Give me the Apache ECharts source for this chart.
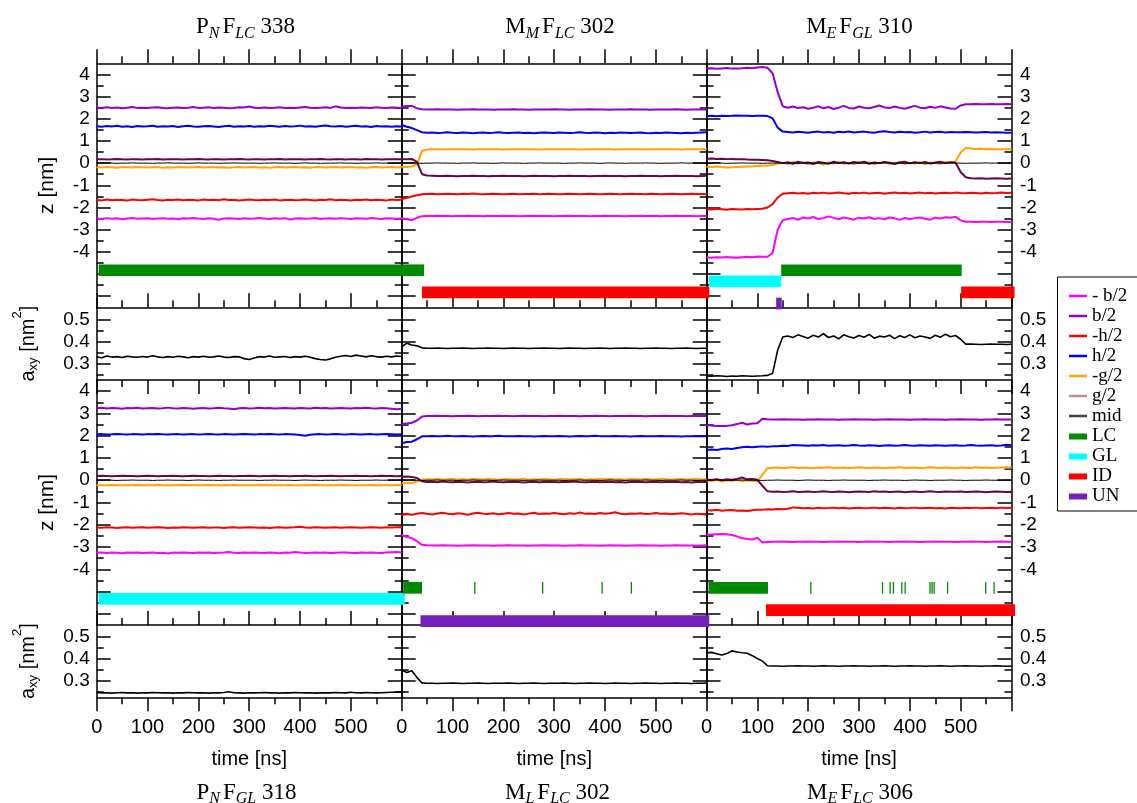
<!DOCTYPE html>
<html><head><meta charset="utf-8">
<script src="https://cdn.jsdelivr.net/npm/echarts@6/dist/echarts.min.js"></script>
<style>html,body{margin:0;padding:0;background:#fff}#chart{width:1137px;height:803px}</style>
</head><body><div id="chart"></div>
<script>
// ---------------- DATA ----------------
const TIME_NS = [0,10,20,30,40,50,60,70,80,90,100,110,120,130,140,150,160,170,180,190,200,210,220,230,240,250,260,270,280,290,300,310,320,330,340,350,360,370,380,390,400,410,420,430,440,450,460,470,480,490,500,510,520,530,540,550,560,570,580,590,600];

const LAYER_NAMES = ['- b/2','b/2','-h/2','h/2','-g/2','g/2','mid'];
const STATE_NAMES = ['LC','GL','ID','UN'];
const STATE_LEVEL = {LC:-4.83, GL:-5.33, ID:-5.83, UN:-6.33};

const Z_MAJOR_TICKS = [-6,-5,-4,-3,-2,-1,0,1,2,3,4];
const Z_MINOR_TICKS = [-5.5,-4.5,-3.5,-2.5,-1.5,-0.5,0.5,1.5,2.5,3.5];
const Z_TICK_LABELS = [-4,-3,-2,-1,0,1,2,3,4];
const A_MAJOR_TICKS = [0.3,0.4,0.5];
const A_MINOR_TICKS = [0.25,0.35,0.45];
const A_TICK_LABELS = [0.3,0.4,0.5];
const Z_RANGE = [-6.5, 4.5];
const A_RANGE = [0.225, 0.555];

const TITLES_TOP = [['P','N','F','LC',' 338'],['M','M','F','LC',' 302'],['M','E','F','GL',' 310']];
const TITLES_BOTTOM = [['P','N','F','GL',' 318'],['M','L','F','LC',' 302'],['M','E','F','LC',' 306']];
const X_NAME = 'time [ns]';
const Z_NAME = 'z [nm]';

const MID_Z = [0.00,0.00,0.01,0.00,-0.01,0.00,0.00,0.01,0.00,0.00,
 0.00,-0.01,0.00,0.00,0.01,0.00,0.00,0.00,-0.01,0.00,
 0.01,0.00,0.00,0.00,-0.01,0.00,0.00,0.01,0.00,0.00,
 0.00,0.00,-0.01,0.00,0.00,0.01,0.00,0.00,0.00,-0.01,
 0.00,0.01,0.00,0.00,-0.01,0.00,0.00,0.00,0.01,0.00,
 0.00,-0.01,0.00,0.00,0.00,0.01,0.00,0.00,-0.01,0.00,
 0.00];

// Panel 1: PN FLC 338
const p1_negB = [-2.50,-2.52,-2.48,-2.51,-2.49,-2.53,-2.50,-2.47,-2.51,-2.50,
 -2.49,-2.52,-2.50,-2.48,-2.51,-2.50,-2.53,-2.49,-2.50,-2.47,
 -2.50,-2.52,-2.49,-2.51,-2.55,-2.50,-2.48,-2.50,-2.52,-2.49,
 -2.51,-2.50,-2.47,-2.50,-2.52,-2.49,-2.51,-2.48,-2.54,-2.50,
 -2.49,-2.51,-2.50,-2.47,-2.52,-2.50,-2.49,-2.51,-2.48,-2.50,
 -2.52,-2.49,-2.50,-2.51,-2.47,-2.50,-2.52,-2.49,-2.50,-2.51,
 -2.50];
const p1_b = [2.50,2.48,2.52,2.49,2.51,2.47,2.50,2.53,2.49,2.50,
 2.48,2.51,2.52,2.49,2.47,2.50,2.51,2.48,2.50,2.53,
 2.49,2.50,2.52,2.48,2.51,2.50,2.47,2.49,2.52,2.51,
 2.55,2.50,2.48,2.51,2.49,2.50,2.52,2.48,2.50,2.49,
 2.51,2.53,2.50,2.48,2.50,2.52,2.49,2.56,2.51,2.48,
 2.50,2.49,2.51,2.50,2.48,2.52,2.50,2.49,2.51,2.50,
 2.49];
const p1_negH = [-1.66,-1.68,-1.64,-1.67,-1.65,-1.66,-1.69,-1.64,-1.66,-1.67,
 -1.65,-1.63,-1.66,-1.68,-1.65,-1.66,-1.64,-1.67,-1.65,-1.66,
 -1.68,-1.64,-1.66,-1.65,-1.67,-1.63,-1.66,-1.65,-1.68,-1.66,
 -1.64,-1.66,-1.67,-1.65,-1.66,-1.64,-1.68,-1.66,-1.65,-1.67,
 -1.66,-1.64,-1.66,-1.69,-1.65,-1.66,-1.63,-1.67,-1.65,-1.66,
 -1.68,-1.65,-1.66,-1.64,-1.67,-1.65,-1.66,-1.68,-1.64,-1.66,
 -1.65];
const p1_h = [1.66,1.64,1.67,1.65,1.68,1.64,1.66,1.63,1.67,1.65,
 1.66,1.68,1.64,1.66,1.65,1.67,1.63,1.66,1.68,1.65,
 1.64,1.66,1.67,1.65,1.63,1.66,1.68,1.64,1.66,1.65,
 1.67,1.64,1.66,1.65,1.68,1.66,1.64,1.67,1.65,1.66,
 1.69,1.65,1.66,1.64,1.67,1.70,1.66,1.65,1.67,1.64,
 1.66,1.68,1.65,1.66,1.63,1.67,1.65,1.66,1.64,1.66,
 1.65];
const p1_negG = [-0.19,-0.20,-0.18,-0.19,-0.21,-0.18,-0.19,-0.20,-0.18,-0.19,
 -0.20,-0.19,-0.18,-0.21,-0.19,-0.20,-0.18,-0.19,-0.20,-0.19,
 -0.18,-0.20,-0.19,-0.18,-0.20,-0.19,-0.21,-0.19,-0.18,-0.20,
 -0.19,-0.18,-0.20,-0.19,-0.21,-0.19,-0.18,-0.20,-0.19,-0.18,
 -0.20,-0.19,-0.21,-0.18,-0.19,-0.20,-0.19,-0.18,-0.20,-0.19,
 -0.18,-0.20,-0.19,-0.21,-0.19,-0.18,-0.20,-0.19,-0.18,-0.20,
 -0.19];
const p1_g = [0.17,0.18,0.16,0.17,0.19,0.17,0.16,0.18,0.17,0.16,
 0.18,0.17,0.19,0.16,0.17,0.18,0.17,0.16,0.18,0.17,
 0.19,0.17,0.16,0.18,0.17,0.16,0.18,0.17,0.19,0.17,
 0.16,0.18,0.17,0.16,0.18,0.17,0.19,0.16,0.17,0.18,
 0.17,0.16,0.18,0.17,0.19,0.17,0.16,0.18,0.17,0.16,
 0.18,0.17,0.16,0.19,0.17,0.18,0.16,0.17,0.18,0.17,
 0.17];
const p1_a = [0.330,0.326,0.334,0.329,0.331,0.327,0.333,0.330,0.328,0.332,
 0.329,0.335,0.330,0.327,0.331,0.328,0.333,0.330,0.326,0.331,
 0.329,0.333,0.328,0.330,0.334,0.329,0.327,0.331,0.330,0.322,
 0.318,0.325,0.331,0.329,0.334,0.328,0.330,0.332,0.327,0.331,
 0.329,0.333,0.328,0.322,0.318,0.316,0.321,0.328,0.333,0.336,
 0.332,0.338,0.334,0.330,0.335,0.331,0.329,0.333,0.330,0.334,
 0.332];
const STATES_P1 = [['LC',4,600]];

// Panel 2: MM FLC 302
const p2_negB = [-2.48,-2.53,-2.58,-2.46,-2.39,-2.38,-2.38,-2.37,-2.38,-2.38,
 -2.39,-2.38,-2.38,-2.37,-2.38,-2.38,-2.39,-2.38,-2.38,-2.38,
 -2.37,-2.38,-2.38,-2.39,-2.38,-2.38,-2.37,-2.38,-2.38,-2.38,
 -2.39,-2.38,-2.38,-2.37,-2.38,-2.38,-2.38,-2.39,-2.38,-2.38,
 -2.37,-2.38,-2.38,-2.38,-2.39,-2.38,-2.38,-2.37,-2.38,-2.38,
 -2.38,-2.39,-2.38,-2.38,-2.37,-2.38,-2.38,-2.38,-2.39,-2.38,
 -2.38];
const p2_b = [2.54,2.57,2.58,2.47,2.43,2.42,2.42,2.43,2.42,2.42,
 2.42,2.41,2.42,2.42,2.43,2.42,2.42,2.42,2.41,2.42,
 2.42,2.42,2.43,2.42,2.42,2.41,2.42,2.42,2.42,2.42,
 2.43,2.42,2.42,2.41,2.42,2.42,2.42,2.43,2.42,2.42,
 2.42,2.41,2.42,2.42,2.42,2.43,2.42,2.42,2.42,2.41,
 2.42,2.42,2.42,2.42,2.43,2.42,2.41,2.42,2.42,2.42,
 2.42];
const p2_negH = [-1.62,-1.57,-1.50,-1.45,-1.40,-1.39,-1.38,-1.40,-1.39,-1.38,
 -1.39,-1.40,-1.38,-1.39,-1.37,-1.39,-1.40,-1.39,-1.38,-1.39,
 -1.40,-1.39,-1.38,-1.40,-1.39,-1.39,-1.38,-1.40,-1.39,-1.38,
 -1.39,-1.40,-1.39,-1.38,-1.39,-1.40,-1.39,-1.38,-1.39,-1.40,
 -1.39,-1.38,-1.39,-1.40,-1.39,-1.38,-1.39,-1.39,-1.40,-1.38,
 -1.39,-1.40,-1.39,-1.38,-1.39,-1.40,-1.39,-1.38,-1.39,-1.39,
 -1.40];
const p2_h = [1.72,1.64,1.58,1.49,1.39,1.37,1.38,1.36,1.37,1.39,
 1.37,1.36,1.38,1.37,1.35,1.37,1.38,1.36,1.37,1.39,
 1.37,1.36,1.37,1.38,1.36,1.37,1.35,1.37,1.38,1.37,
 1.36,1.38,1.37,1.36,1.37,1.39,1.37,1.36,1.38,1.37,
 1.35,1.37,1.36,1.38,1.37,1.36,1.37,1.38,1.36,1.35,
 1.37,1.36,1.38,1.37,1.36,1.35,1.37,1.36,1.37,1.38,
 1.39];
const p2_negG = [-0.16,-0.17,-0.15,-0.06,0.55,0.61,0.62,0.62,0.61,0.62,
 0.62,0.63,0.62,0.62,0.61,0.62,0.62,0.63,0.62,0.62,
 0.61,0.62,0.62,0.62,0.63,0.62,0.62,0.61,0.62,0.62,
 0.62,0.63,0.62,0.62,0.62,0.61,0.62,0.62,0.63,0.62,
 0.62,0.62,0.61,0.62,0.63,0.62,0.62,0.62,0.61,0.62,
 0.62,0.63,0.62,0.62,0.62,0.61,0.62,0.62,0.62,0.63,
 0.62];
const p2_g = [0.18,0.17,0.19,0.06,-0.50,-0.56,-0.57,-0.58,-0.58,-0.57,
 -0.58,-0.59,-0.58,-0.58,-0.57,-0.58,-0.58,-0.59,-0.58,-0.58,
 -0.57,-0.58,-0.58,-0.58,-0.59,-0.58,-0.57,-0.58,-0.58,-0.58,
 -0.59,-0.58,-0.58,-0.57,-0.58,-0.58,-0.58,-0.59,-0.58,-0.58,
 -0.57,-0.58,-0.58,-0.58,-0.59,-0.58,-0.58,-0.57,-0.58,-0.58,
 -0.58,-0.59,-0.58,-0.58,-0.57,-0.58,-0.58,-0.58,-0.59,-0.58,
 -0.57];
const p2_a = [0.376,0.392,0.384,0.380,0.371,0.369,0.369,0.370,0.369,0.368,
 0.369,0.369,0.370,0.369,0.368,0.369,0.369,0.370,0.369,0.369,
 0.368,0.369,0.370,0.369,0.369,0.368,0.369,0.369,0.370,0.369,
 0.369,0.368,0.369,0.370,0.369,0.369,0.368,0.369,0.369,0.370,
 0.369,0.368,0.369,0.369,0.370,0.369,0.369,0.368,0.369,0.369,
 0.370,0.369,0.369,0.368,0.369,0.369,0.370,0.369,0.368,0.369,
 0.369];
const STATES_P2 = [['LC',0,44],['ID',40,605]];

// Panel 3: ME FGL 310
const p3_negB = [-4.25,-4.27,-4.24,-4.26,-4.23,-4.25,-4.27,-4.24,-4.22,-4.24,
 -4.21,-4.22,-4.22,-4.05,-3.00,-2.57,-2.52,-2.47,-2.55,-2.45,
 -2.50,-2.43,-2.52,-2.48,-2.40,-2.47,-2.53,-2.45,-2.50,-2.55,
 -2.46,-2.50,-2.44,-2.52,-2.48,-2.53,-2.45,-2.49,-2.56,-2.47,
 -2.52,-2.48,-2.45,-2.51,-2.55,-2.46,-2.50,-2.44,-2.46,-2.42,
 -2.58,-2.64,-2.64,-2.65,-2.64,-2.64,-2.65,-2.64,-2.64,-2.65,
 -2.65];
const p3_b = [4.27,4.28,4.25,4.27,4.29,4.26,4.27,4.28,4.30,4.28,
 4.31,4.33,4.30,4.05,3.20,2.56,2.50,2.55,2.48,2.52,
 2.45,2.50,2.56,2.47,2.53,2.44,2.50,2.58,2.49,2.46,
 2.55,2.50,2.47,2.53,2.60,2.51,2.48,2.55,2.49,2.45,
 2.52,2.58,2.50,2.47,2.54,2.49,2.56,2.51,2.46,2.45,
 2.60,2.65,2.65,2.66,2.65,2.65,2.66,2.65,2.65,2.66,
 2.65];
const p3_negH = [-2.08,-2.09,-2.06,-2.08,-2.10,-2.07,-2.08,-2.09,-2.07,-2.08,
 -2.07,-2.06,-2.00,-1.85,-1.55,-1.38,-1.36,-1.34,-1.37,-1.35,
 -1.38,-1.34,-1.36,-1.33,-1.37,-1.35,-1.32,-1.36,-1.38,-1.34,
 -1.36,-1.33,-1.37,-1.35,-1.34,-1.38,-1.35,-1.32,-1.36,-1.34,
 -1.37,-1.35,-1.33,-1.36,-1.34,-1.37,-1.35,-1.34,-1.36,-1.33,
 -1.35,-1.36,-1.34,-1.35,-1.37,-1.34,-1.36,-1.35,-1.33,-1.35,
 -1.34];
const p3_h = [2.12,2.13,2.11,2.14,2.12,2.13,2.15,2.13,2.14,2.12,
 2.14,2.13,2.12,2.02,1.60,1.42,1.40,1.38,1.41,1.39,
 1.37,1.40,1.42,1.38,1.40,1.37,1.41,1.39,1.43,1.38,
 1.40,1.42,1.39,1.37,1.41,1.44,1.40,1.38,1.41,1.39,
 1.40,1.37,1.39,1.42,1.38,1.40,1.41,1.38,1.40,1.39,
 1.39,1.40,1.39,1.38,1.39,1.40,1.38,1.39,1.38,1.37,
 1.37];
const p3_negG = [-0.16,-0.17,-0.15,-0.18,-0.20,-0.19,-0.17,-0.16,-0.15,-0.14,
 -0.13,-0.12,-0.11,-0.08,-0.03,0.02,-0.04,0.05,-0.02,0.03,
 -0.05,0.04,0.00,-0.06,0.03,-0.02,0.06,-0.03,0.01,-0.04,
 0.05,-0.01,0.03,-0.05,0.02,0.04,-0.03,0.00,0.05,-0.04,
 0.02,-0.02,0.04,-0.05,0.03,0.00,-0.03,0.05,0.01,0.08,
 0.48,0.68,0.66,0.64,0.65,0.63,0.64,0.62,0.63,0.62,
 0.62];
const p3_g = [0.20,0.21,0.19,0.20,0.18,0.19,0.17,0.18,0.16,0.15,
 0.15,0.14,0.13,0.10,0.05,0.00,0.04,-0.03,0.06,0.01,
 0.03,-0.04,0.05,0.02,-0.03,0.06,0.00,0.04,-0.02,0.05,
 0.01,0.06,-0.03,0.03,0.00,0.05,0.02,-0.04,0.03,0.06,
 -0.01,0.04,0.00,0.05,-0.02,0.03,0.06,0.00,0.04,0.02,
 -0.40,-0.64,-0.68,-0.69,-0.68,-0.70,-0.69,-0.68,-0.69,-0.70,
 -0.69];
const p3_a = [0.243,0.242,0.244,0.243,0.241,0.243,0.242,0.244,0.243,0.242,
 0.243,0.244,0.246,0.255,0.360,0.420,0.425,0.418,0.430,0.422,
 0.415,0.428,0.420,0.435,0.418,0.425,0.412,0.430,0.421,0.416,
 0.427,0.419,0.432,0.415,0.424,0.420,0.428,0.413,0.426,0.418,
 0.430,0.417,0.425,0.420,0.414,0.428,0.419,0.433,0.421,0.427,
 0.410,0.388,0.388,0.387,0.386,0.387,0.388,0.387,0.387,0.386,
 0.387];
const STATES_P3 = [['GL',5,147],['LC',147,502],['ID',501,606],['UN',137,148]];

// Panel 4: PN FGL 318
const p4_negB = [-3.26,-3.24,-3.27,-3.25,-3.26,-3.28,-3.25,-3.26,-3.24,-3.27,
 -3.26,-3.25,-3.27,-3.26,-3.29,-3.25,-3.26,-3.24,-3.26,-3.27,
 -3.25,-3.26,-3.24,-3.27,-3.26,-3.25,-3.22,-3.26,-3.27,-3.25,
 -3.26,-3.24,-3.26,-3.27,-3.25,-3.26,-3.28,-3.25,-3.26,-3.22,
 -3.25,-3.27,-3.26,-3.24,-3.26,-3.25,-3.27,-3.26,-3.25,-3.24,
 -3.26,-3.27,-3.25,-3.26,-3.24,-3.26,-3.27,-3.25,-3.23,-3.22,
 -3.24];
const p4_b = [3.23,3.25,3.22,3.24,3.23,3.21,3.24,3.23,3.25,3.22,
 3.23,3.24,3.22,3.23,3.26,3.23,3.22,3.24,3.23,3.21,
 3.23,3.24,3.22,3.23,3.25,3.23,3.22,3.19,3.23,3.24,
 3.22,3.23,3.25,3.23,3.24,3.22,3.23,3.24,3.23,3.22,
 3.24,3.23,3.22,3.25,3.23,3.24,3.22,3.23,3.24,3.23,
 3.22,3.24,3.23,3.25,3.23,3.22,3.24,3.23,3.21,3.19,
 3.21];
const p4_negH = [-2.12,-2.13,-2.11,-2.12,-2.14,-2.12,-2.11,-2.13,-2.12,-2.11,
 -2.13,-2.12,-2.11,-2.12,-2.14,-2.12,-2.13,-2.11,-2.12,-2.13,
 -2.12,-2.11,-2.13,-2.12,-2.12,-2.14,-2.12,-2.11,-2.13,-2.12,
 -2.11,-2.12,-2.13,-2.12,-2.14,-2.12,-2.11,-2.13,-2.12,-2.11,
 -2.09,-2.12,-2.13,-2.11,-2.12,-2.13,-2.12,-2.11,-2.13,-2.12,
 -2.11,-2.12,-2.13,-2.12,-2.11,-2.12,-2.13,-2.11,-2.12,-2.11,
 -2.11];
const p4_h = [2.06,2.07,2.05,2.06,2.08,2.06,2.05,2.07,2.06,2.05,
 2.07,2.06,2.08,2.06,2.05,2.06,2.07,2.05,2.06,2.07,
 2.05,2.06,2.08,2.06,2.05,2.07,2.06,2.05,2.06,2.07,
 2.06,2.05,2.07,2.06,2.08,2.06,2.05,2.07,2.06,2.05,
 2.03,2.00,2.04,2.06,2.07,2.05,2.06,2.08,2.06,2.05,
 2.07,2.06,2.05,2.06,2.07,2.05,2.06,2.07,2.06,2.05,
 2.06];
const p4_negG = [-0.22,-0.23,-0.22,-0.21,-0.22,-0.23,-0.22,-0.22,-0.21,-0.22,
 -0.23,-0.22,-0.21,-0.22,-0.22,-0.23,-0.22,-0.21,-0.22,-0.23,
 -0.22,-0.22,-0.21,-0.22,-0.23,-0.22,-0.22,-0.21,-0.22,-0.22,
 -0.23,-0.22,-0.21,-0.22,-0.22,-0.23,-0.22,-0.22,-0.21,-0.22,
 -0.22,-0.23,-0.22,-0.21,-0.22,-0.22,-0.23,-0.22,-0.21,-0.22,
 -0.22,-0.23,-0.22,-0.22,-0.21,-0.22,-0.23,-0.22,-0.22,-0.21,
 -0.22];
const p4_g = [0.19,0.20,0.19,0.18,0.19,0.20,0.19,0.19,0.18,0.19,
 0.20,0.19,0.18,0.19,0.19,0.20,0.19,0.18,0.19,0.20,
 0.19,0.19,0.18,0.19,0.20,0.19,0.19,0.18,0.19,0.19,
 0.20,0.19,0.18,0.19,0.19,0.20,0.19,0.19,0.18,0.19,
 0.19,0.20,0.19,0.18,0.19,0.19,0.20,0.19,0.18,0.19,
 0.19,0.20,0.19,0.19,0.18,0.19,0.20,0.19,0.19,0.18,
 0.19];
const p4_a = [0.247,0.245,0.246,0.244,0.246,0.247,0.245,0.246,0.244,0.246,
 0.245,0.247,0.246,0.245,0.246,0.244,0.246,0.245,0.247,0.246,
 0.245,0.246,0.244,0.246,0.245,0.247,0.250,0.246,0.245,0.244,
 0.246,0.245,0.246,0.247,0.245,0.246,0.244,0.246,0.245,0.247,
 0.246,0.245,0.246,0.244,0.245,0.246,0.245,0.247,0.246,0.245,
 0.248,0.246,0.245,0.247,0.246,0.245,0.246,0.247,0.248,0.249,
 0.248];
const STATES_P4 = [['GL',4,606]];

// Panel 5: ML FLC 302
const p5_negB = [-2.46,-2.55,-2.60,-2.74,-2.90,-2.92,-2.93,-2.93,-2.92,-2.93,
 -2.93,-2.94,-2.93,-2.93,-2.92,-2.93,-2.93,-2.93,-2.94,-2.93,
 -2.93,-2.92,-2.93,-2.93,-2.93,-2.94,-2.93,-2.93,-2.92,-2.93,
 -2.93,-2.93,-2.94,-2.93,-2.93,-2.92,-2.93,-2.93,-2.93,-2.94,
 -2.93,-2.92,-2.93,-2.93,-2.94,-2.93,-2.93,-2.92,-2.93,-2.93,
 -2.93,-2.94,-2.93,-2.93,-2.92,-2.93,-2.93,-2.93,-2.94,-2.93,
 -2.92];
const p5_b = [2.52,2.55,2.58,2.68,2.86,2.88,2.88,2.89,2.88,2.88,
 2.87,2.88,2.88,2.89,2.88,2.87,2.88,2.88,2.88,2.89,
 2.88,2.88,2.87,2.88,2.89,2.88,2.88,2.88,2.87,2.88,
 2.88,2.89,2.88,2.88,2.88,2.87,2.88,2.88,2.89,2.88,
 2.88,2.87,2.88,2.88,2.88,2.89,2.88,2.88,2.87,2.88,
 2.88,2.88,2.89,2.88,2.88,2.88,2.87,2.88,2.88,2.89,
 2.88];
const p5_negH = [-1.56,-1.52,-1.55,-1.50,-1.47,-1.51,-1.54,-1.49,-1.46,-1.50,
 -1.53,-1.48,-1.51,-1.55,-1.49,-1.46,-1.50,-1.52,-1.48,-1.53,
 -1.50,-1.47,-1.51,-1.49,-1.54,-1.50,-1.46,-1.52,-1.49,-1.51,
 -1.47,-1.50,-1.53,-1.48,-1.51,-1.45,-1.50,-1.49,-1.52,-1.47,
 -1.51,-1.48,-1.44,-1.50,-1.53,-1.49,-1.51,-1.48,-1.52,-1.50,
 -1.47,-1.51,-1.49,-1.53,-1.50,-1.48,-1.51,-1.54,-1.50,-1.52,
 -1.55];
const p5_h = [1.66,1.72,1.73,1.84,1.97,1.98,1.99,1.97,1.98,2.00,
 1.98,1.97,1.99,1.98,1.96,1.98,1.99,1.97,1.98,2.00,
 1.98,1.97,1.98,1.99,1.97,1.98,1.96,1.98,1.99,1.98,
 1.97,1.99,1.98,1.96,1.98,1.99,1.97,1.98,2.00,1.98,
 1.97,1.98,1.99,1.97,1.98,1.96,1.98,1.99,1.98,1.97,
 1.98,1.99,1.97,1.98,1.98,1.96,1.98,1.97,1.98,1.97,
 1.97];
const p5_negG = [-0.14,-0.12,-0.12,-0.06,0.02,0.04,0.03,0.05,0.02,0.04,
 0.06,0.03,0.04,0.02,0.05,0.04,0.03,0.06,0.04,0.02,
 0.04,0.05,0.03,0.04,0.06,0.02,0.04,0.03,0.05,0.04,
 0.02,0.04,0.06,0.03,0.04,0.05,0.02,0.04,0.03,0.05,
 0.04,0.06,0.03,0.04,0.02,0.05,0.04,0.03,0.06,0.04,
 0.03,0.05,0.04,0.02,0.04,0.06,0.03,0.04,0.05,0.03,
 0.04];
const p5_g = [0.16,0.17,0.15,0.10,-0.05,-0.08,-0.07,-0.09,-0.06,-0.08,
 -0.09,-0.07,-0.08,-0.10,-0.08,-0.07,-0.09,-0.08,-0.06,-0.08,
 -0.09,-0.08,-0.07,-0.08,-0.10,-0.08,-0.07,-0.09,-0.08,-0.07,
 -0.08,-0.09,-0.07,-0.08,-0.06,-0.08,-0.09,-0.08,-0.07,-0.09,
 -0.08,-0.07,-0.09,-0.08,-0.10,-0.08,-0.07,-0.08,-0.09,-0.08,
 -0.07,-0.09,-0.08,-0.08,-0.07,-0.09,-0.08,-0.10,-0.08,-0.08,
 -0.08];
const p5_a = [0.349,0.338,0.346,0.315,0.291,0.289,0.289,0.288,0.289,0.289,
 0.290,0.289,0.288,0.289,0.289,0.290,0.289,0.288,0.289,0.289,
 0.289,0.290,0.289,0.288,0.289,0.289,0.290,0.289,0.288,0.289,
 0.289,0.289,0.290,0.289,0.288,0.289,0.289,0.290,0.289,0.289,
 0.288,0.289,0.290,0.289,0.289,0.288,0.289,0.289,0.290,0.289,
 0.289,0.288,0.289,0.289,0.290,0.289,0.289,0.288,0.289,0.289,
 0.290];
const STATES_P5 = [['LC',3,40],['LC',142.5,143.5],['LC',276,277],['LC',393,394],['LC',450.5,451.5],['UN',37,605]];

// Panel 6: ME FLC 306
const p6_negB = [-2.46,-2.44,-2.42,-2.41,-2.43,-2.46,-2.52,-2.61,-2.64,-2.66,
 -2.58,-2.80,-2.77,-2.76,-2.76,-2.75,-2.76,-2.77,-2.76,-2.76,
 -2.75,-2.76,-2.76,-2.77,-2.76,-2.76,-2.75,-2.76,-2.76,-2.76,
 -2.77,-2.76,-2.75,-2.76,-2.76,-2.76,-2.77,-2.76,-2.76,-2.75,
 -2.76,-2.76,-2.77,-2.76,-2.76,-2.75,-2.76,-2.76,-2.76,-2.77,
 -2.76,-2.76,-2.75,-2.76,-2.76,-2.77,-2.76,-2.76,-2.75,-2.76,
 -2.76];
const p6_b = [2.48,2.46,2.44,2.43,2.44,2.47,2.52,2.58,2.50,2.55,
 2.56,2.76,2.74,2.73,2.73,2.74,2.73,2.73,2.73,2.72,
 2.73,2.73,2.74,2.73,2.73,2.73,2.72,2.73,2.73,2.74,
 2.73,2.73,2.73,2.72,2.73,2.73,2.74,2.73,2.73,2.73,
 2.72,2.73,2.73,2.74,2.73,2.73,2.73,2.72,2.73,2.73,
 2.74,2.73,2.73,2.73,2.72,2.73,2.73,2.74,2.73,2.73,
 2.73];
const p6_negH = [-1.34,-1.36,-1.33,-1.37,-1.35,-1.34,-1.37,-1.36,-1.38,-1.35,
 -1.33,-1.32,-1.30,-1.31,-1.29,-1.30,-1.28,-1.22,-1.24,-1.26,
 -1.25,-1.27,-1.24,-1.26,-1.25,-1.23,-1.26,-1.24,-1.27,-1.25,
 -1.24,-1.26,-1.25,-1.23,-1.26,-1.24,-1.25,-1.27,-1.24,-1.26,
 -1.25,-1.23,-1.26,-1.25,-1.24,-1.26,-1.25,-1.27,-1.24,-1.25,
 -1.26,-1.24,-1.25,-1.23,-1.26,-1.25,-1.24,-1.26,-1.23,-1.25,
 -1.24];
const p6_h = [1.36,1.38,1.36,1.40,1.42,1.40,1.45,1.48,1.50,1.48,
 1.50,1.52,1.50,1.52,1.53,1.55,1.54,1.58,1.57,1.56,
 1.55,1.57,1.56,1.58,1.55,1.56,1.57,1.55,1.56,1.58,
 1.56,1.55,1.57,1.56,1.54,1.56,1.57,1.55,1.56,1.58,
 1.56,1.55,1.57,1.56,1.55,1.57,1.56,1.55,1.56,1.57,
 1.55,1.56,1.58,1.56,1.55,1.56,1.57,1.55,1.56,1.59,
 1.57];
const p6_negG = [0.00,-0.04,0.02,-0.06,0.01,-0.03,0.03,-0.05,0.00,-0.02,
 -0.05,0.25,0.54,0.56,0.57,0.55,0.56,0.58,0.55,0.57,
 0.56,0.54,0.57,0.56,0.58,0.55,0.56,0.57,0.55,0.56,
 0.58,0.56,0.55,0.57,0.56,0.54,0.57,0.56,0.58,0.55,
 0.56,0.57,0.55,0.56,0.58,0.56,0.55,0.57,0.56,0.54,
 0.57,0.56,0.55,0.58,0.56,0.57,0.55,0.56,0.57,0.58,
 0.57];
const p6_g = [0.03,0.01,0.05,0.00,0.04,0.02,0.06,0.12,0.04,0.05,
 0.02,-0.25,-0.50,-0.52,-0.51,-0.53,-0.52,-0.50,-0.53,-0.52,
 -0.51,-0.53,-0.52,-0.50,-0.52,-0.53,-0.51,-0.52,-0.54,-0.52,
 -0.51,-0.52,-0.53,-0.50,-0.52,-0.51,-0.53,-0.52,-0.51,-0.54,
 -0.52,-0.51,-0.53,-0.52,-0.50,-0.52,-0.53,-0.51,-0.52,-0.52,
 -0.51,-0.53,-0.52,-0.51,-0.52,-0.54,-0.52,-0.51,-0.52,-0.53,
 -0.52];
const p6_a = [0.428,0.430,0.424,0.418,0.425,0.437,0.432,0.428,0.426,0.415,
 0.402,0.390,0.369,0.368,0.368,0.367,0.368,0.368,0.369,0.368,
 0.368,0.367,0.368,0.369,0.368,0.368,0.367,0.368,0.368,0.369,
 0.368,0.368,0.367,0.368,0.368,0.369,0.368,0.367,0.368,0.368,
 0.369,0.368,0.368,0.367,0.368,0.368,0.369,0.368,0.367,0.368,
 0.368,0.369,0.368,0.368,0.367,0.368,0.368,0.369,0.368,0.367,
 0.368];
const STATES_P6 = [['LC',4,121],['LC',204,205],['LC',345,346],['LC',360,361],['LC',366.5,367.5],['LC',383,384],['LC',389.5,390.5],['LC',438.5,439.5],['LC',442.5,443.5],['LC',446.5,447.5],['LC',473,474],['LC',548,549],['LC',564.5,565.5],['ID',117,607]];

// ---------------- STYLE / LAYOUT ----------------
const SANS = '"Liberation Sans", Arial, Helvetica, sans-serif';
const SERIF = '"Liberation Serif", "Times New Roman", serif';
const LAYER_COLORS = ['#ff00ff','#9400d3','#ff0000','#0000ff','#ffa500','#670748','#000000'];
const LEGEND_LINE_COLORS = ['#ff00ff','#9400d3','#ff0000','#0000ff','#ffa500','#bc8f8f','#444444'];
const STATE_COLORS = {LC:'#008b00', GL:'#00ffff', ID:'#ff0000', UN:'#7221bc'};
const COL_LEFT = [96.7, 401.7, 706.5];
const COL_W = 305;
const ROW_TOP = [63.3, 307.3, 380, 625];
const ROW_H = [244, 72.7, 245, 72.3];
const ROW_KIND = ['z','a','z','a'];
const TITLE_X_TOP = [245.5, 560, 859.5];
const TITLE_X_BOTTOM = [246.5, 557.5, 860];

const Z_PANELS = [
  {row:0, col:0, lines:[p1_negB,p1_b,p1_negH,p1_h,p1_negG,p1_g,MID_Z], axy:p1_a, states:STATES_P1},
  {row:0, col:1, lines:[p2_negB,p2_b,p2_negH,p2_h,p2_negG,p2_g,MID_Z], axy:p2_a, states:STATES_P2},
  {row:0, col:2, lines:[p3_negB,p3_b,p3_negH,p3_h,p3_negG,p3_g,MID_Z], axy:p3_a, states:STATES_P3},
  {row:2, col:0, lines:[p4_negB,p4_b,p4_negH,p4_h,p4_negG,p4_g,MID_Z], axy:p4_a, states:STATES_P4},
  {row:2, col:1, lines:[p5_negB,p5_b,p5_negH,p5_h,p5_negG,p5_g,MID_Z], axy:p5_a, states:STATES_P5},
  {row:2, col:2, lines:[p6_negB,p6_b,p6_negH,p6_h,p6_negG,p6_g,MID_Z], axy:p6_a, states:STATES_P6}
];

const lineS = {color:'#000', width:1.5};
const grids = [], xAxis = [], yAxis = [], series = [];
const gridX = [], gridY = [];

for (let r = 0; r < 4; r++) {
  for (let c = 0; c < 3; c++) {
    const gi = grids.length;
    grids.push({left:COL_LEFT[c], top:ROW_TOP[r], width:COL_W, height:ROW_H[r], containLabel:false, outerBoundsMode:'none'});
    gridX[gi] = xAxis.length;
    xAxis.push({type:'value', gridIndex:gi, position:'bottom', min:0, max:600, interval:100,
      axisLine:{show:true, onZero:false, lineStyle:lineS},
      axisTick:{show:true, inside:(r===0||r===2), length:14, lineStyle:lineS},
      minorTick:{show:true, splitNumber:2, length:7, lineStyle:lineS},
      axisLabel:{show:r===3, margin:20, showMaxLabel:false, color:'#000', fontFamily:SANS, fontSize:20},
      splitLine:{show:false}, minorSplitLine:{show:false},
      name: r===3 ? X_NAME : '', nameLocation:'middle', nameGap:52, nameMoveOverlap:false,
      nameTextStyle:{color:'#000', fontFamily:SANS, fontSize:20}});
    if (r === 0) {
      xAxis.push({type:'value', gridIndex:gi, position:'top', min:0, max:600, interval:100,
        axisLine:{show:true, onZero:false, lineStyle:lineS},
        axisTick:{show:true, inside:false, length:14, lineStyle:lineS},
        minorTick:{show:true, splitNumber:2, length:7, lineStyle:lineS},
        axisLabel:{show:false}, splitLine:{show:false}, minorSplitLine:{show:false}});
    }
    const isZ = ROW_KIND[r] === 'z';
    const yr = isZ ? Z_RANGE : A_RANGE;
    ['left','right'].forEach(side => {
      const showLab = (side==='left' && c===0) || (side==='right' && c===2);
      if (side === 'left') gridY[gi] = yAxis.length;
      const ax = {type:'value', gridIndex:gi, position:side, min:yr[0], max:yr[1],
        axisLine:{show:true, onZero:false, lineStyle:lineS},
        axisTick:{show:true, inside:true, length:14, lineStyle:lineS, customValues: isZ ? Z_MAJOR_TICKS : A_MAJOR_TICKS},
        axisLabel:{show:showLab, customValues: isZ ? Z_TICK_LABELS : A_TICK_LABELS, margin: side==='left' ? 7 : 8.5,
          color:'#000', fontFamily:SANS, fontSize:19},
        splitLine:{show:false}};
      if (side === 'left' && c === 0) {
        ax.nameLocation = 'middle';
        ax.nameRotate = 90;
        ax.nameMoveOverlap = false;
        if (isZ) {
          ax.name = Z_NAME; ax.nameGap = 39;
          ax.nameTextStyle = {color:'#000', fontFamily:SANS, fontSize:21};
        } else {
          ax.name = '{n|a}{sub|xy}{n| [nm}{sup|2}{n|]}'; ax.nameGap = 57;
          ax.nameTextStyle = {color:'#000', fontFamily:SANS, fontSize:20, rich:{
            n:{fontFamily:SANS, fontSize:20, verticalAlign:'top', padding:[8,0,0,0], color:'#000'},
            sub:{fontFamily:SANS, fontSize:13, verticalAlign:'top', padding:[16,0,0,0], color:'#000'},
            sup:{fontFamily:SANS, fontSize:13, verticalAlign:'top', padding:[0,0,0,0], color:'#000'}}};
        }
      }
      yAxis.push(ax);
      yAxis.push({type:'value', gridIndex:gi, position:side, min:yr[0], max:yr[1],
        axisLine:{show:false, onZero:false},
        axisTick:{show:true, inside:true, length:7, lineStyle:lineS, customValues: isZ ? Z_MINOR_TICKS : A_MINOR_TICKS},
        axisLabel:{show:false}, splitLine:{show:false}});
    });
  }
}

function renderState(params, api) {
  const p0 = api.coord([api.value(0), api.value(2)]);
  const p1 = api.coord([api.value(1), api.value(2)]);
  const h = 11.7;
  return {type:'rect', shape:{x:p0[0], y:p0[1]-h/2, width:Math.max(p1[0]-p0[0], 1.3), height:h},
    style:{fill: api.visual('color')}};
}

Z_PANELS.forEach(p => {
  const gi = p.row*3 + p.col;
  const ga = (p.row+1)*3 + p.col;
  p.lines.forEach((arr, k) => {
    series.push({type:'line', name:LAYER_NAMES[k], xAxisIndex:gridX[gi], yAxisIndex:gridY[gi],
      data: TIME_NS.map((t,i) => [t, arr[i]]), symbol:'none', showSymbol:false,
      lineStyle:{color:LAYER_COLORS[k], width: k===6 ? 1 : 2}, itemStyle:{color:LAYER_COLORS[k]},
      animation:false, silent:true, z:3});
  });
  series.push({type:'line', name:'a_xy', xAxisIndex:gridX[ga], yAxisIndex:gridY[ga],
    data: TIME_NS.map((t,i) => [t, p.axy[i]]), symbol:'none', showSymbol:false,
    lineStyle:{color:'#000', width:1.6}, itemStyle:{color:'#000'}, animation:false, silent:true, z:3});
  STATE_NAMES.forEach(s => {
    const segs = p.states.filter(d => d[0] === s);
    if (!segs.length) return;
    series.push({type:'custom', name:s, xAxisIndex:gridX[gi], yAxisIndex:gridY[gi],
      data: segs.map(d => [d[1], d[2], STATE_LEVEL[s]]), encode:{x:[0,1], y:2},
      renderItem: renderState, itemStyle:{color:STATE_COLORS[s]}, clip:false, animation:false, silent:true, z:4});
  });
});

function titleEl(x, y, parts) {
  return {type:'text', x:x, y:y, silent:true, style:{
    text: '{r|'+parts[0]+'}{s|'+parts[1]+'}{r|'+parts[2]+'}{s2|'+parts[3]+'}{r|'+parts[4]+'}',
    rich:{
      r:{fontFamily:SERIF, fontSize:23, verticalAlign:'top', padding:[0,0,0,0], fill:'#000'},
      s:{fontFamily:SERIF, fontStyle:'italic', fontSize:16, verticalAlign:'top', padding:[10,3,0,0], fill:'#000'},
      s2:{fontFamily:SERIF, fontStyle:'italic', fontSize:16, verticalAlign:'top', padding:[10,0,0,0], fill:'#000'}
    },
    align:'center', verticalAlign:'top', fill:'#000'}};
}

const graphics = [
  {type:'rect', shape:{x:1057.5, y:277, width:100, height:234}, style:{fill:'none', stroke:'#000', lineWidth:1}, silent:true}
];
TITLES_TOP.forEach((t,i) => graphics.push(titleEl(TITLE_X_TOP[i], 15.3, t)));
TITLES_BOTTOM.forEach((t,i) => graphics.push(titleEl(TITLE_X_BOTTOM[i], 781, t)));

const option = {
  backgroundColor:'#fff',
  animation:false,
  grid: grids,
  xAxis: xAxis,
  yAxis: yAxis,
  series: series,
  graphic: graphics,
  legend: [
    {orient:'vertical', left:1069, top:286, padding:0, itemGap:0, itemWidth:18, itemHeight:2.5, icon:'rect',
     selectedMode:false, itemStyle:{borderWidth:0},
     data: LAYER_NAMES.map((n,k) => ({name:n, itemStyle:{color:LEGEND_LINE_COLORS[k], borderWidth:0}})),
     textStyle:{fontFamily:SERIF, fontSize:19, lineHeight:20, color:'#000'}},
    {orient:'vertical', left:1069, top:426.5, padding:0, itemGap:0, itemWidth:18, itemHeight:6, icon:'rect',
     selectedMode:false, itemStyle:{borderWidth:0},
     data: STATE_NAMES.map(n => ({name:n, itemStyle:{color:STATE_COLORS[n], borderWidth:0}})),
     textStyle:{fontFamily:SERIF, fontSize:19, lineHeight:20, color:'#000'}}
  ]
};

const chart = echarts.init(document.getElementById('chart'), null, {renderer:'canvas'});
chart.setOption(option);
</script></body></html>
